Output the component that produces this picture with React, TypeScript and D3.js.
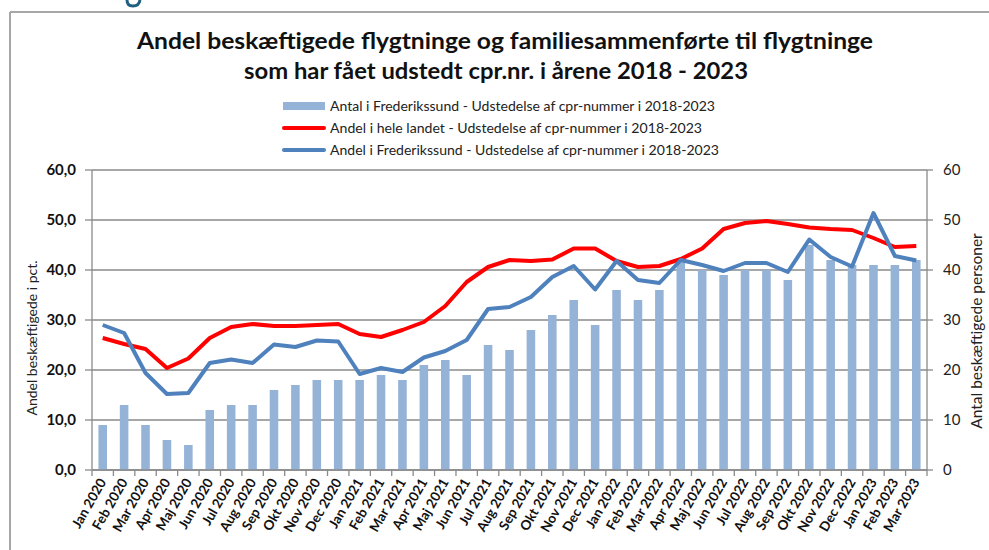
import React from "react";
import * as d3 from "d3";

const categories: string[] = [
  "Jan 2020","Feb 2020","Mar 2020","Apr 2020","Maj 2020","Jun 2020","Jul 2020","Aug 2020","Sep 2020","Okt 2020","Nov 2020","Dec 2020",
  "Jan 2021","Feb 2021","Mar 2021","Apr 2021","Maj 2021","Jun 2021","Jul 2021","Aug 2021","Sep 2021","Okt 2021","Nov 2021","Dec 2021",
  "Jan 2022","Feb 2022","Mar 2022","Apr 2022","Maj 2022","Jun 2022","Jul 2022","Aug 2022","Sep 2022","Okt 2022","Nov 2022","Dec 2022",
  "Jan 2023","Feb 2023","Mar 2023",
];

const antalFrederikssund = [
  9, 13, 9, 6, 5, 12, 13, 13, 16, 17, 18, 18,
  18, 19, 18, 21, 22, 19, 25, 24, 28, 31, 34, 29,
  36, 34, 36, 42, 40, 39, 40, 40, 38, 45, 42, 41,
  41, 41, 42,
];

const andelLandet = [
  26.4, 25.2, 24.2, 20.4, 22.3, 26.4, 28.6, 29.2, 28.8, 28.8, 29.0, 29.2,
  27.2, 26.6, 28.0, 29.6, 32.8, 37.6, 40.6, 42.0, 41.8, 42.1, 44.3, 44.3,
  41.8, 40.6, 40.8, 42.2, 44.3, 48.2, 49.4, 49.8, 49.2, 48.5, 48.2, 48.0,
  46.4, 44.6, 44.8,
];

const andelFrederikssund = [
  29.0, 27.4, 19.4, 15.2, 15.4, 21.4, 22.1, 21.4, 25.1, 24.6, 25.9, 25.7,
  19.2, 20.4, 19.6, 22.5, 23.8, 26.0, 32.2, 32.6, 34.6, 38.6, 40.8, 36.1,
  41.8, 38.0, 37.4, 42.0, 41.0, 39.8, 41.4, 41.4, 39.6, 46.1, 42.6, 40.7,
  51.4, 42.8, 41.9,
];

const leftTicks = [0, 10, 20, 30, 40, 50, 60];
const rightTicks = [0, 10, 20, 30, 40, 50, 60];

const titleLines = [
  "Andel beskæftigede flygtninge og familiesammenførte til flygtninge",
  "som har fået udstedt cpr.nr. i årene 2018 - 2023",
];
const legendLabels = [
  "Antal i Frederikssund - Udstedelse af cpr-nummer i 2018-2023",
  "Andel i hele landet - Udstedelse af cpr-nummer i 2018-2023",
  "Andel i Frederikssund - Udstedelse af cpr-nummer i 2018-2023",
];

const W = 989;
const H = 550;
const plot = { left: 92, right: 927, top: 170, bottom: 470 };
const FONT = "Lato, 'Liberation Sans', Arial, sans-serif";
const BAR = "#95b3d7";
const RED = "#ff0000";
const BLUE = "#4f81bd";
const GRID = "#8a8a8a";

export default function App() {
  const x = d3.scaleBand<string>().domain(categories).range([plot.left, plot.right]).padding(0);
  const yL = d3.scaleLinear().domain([0, 60]).range([plot.bottom, plot.top]);
  const yR = d3.scaleLinear().domain([0, 60]).range([plot.bottom, plot.top]);
  const bw = x.bandwidth() * 0.4;
  const cx = (c: string) => (x(c) as number) + x.bandwidth() / 2;

  const line = d3
    .line<number>()
    .x((_, i) => cx(categories[i]))
    .y((d) => yL(d))
    .curve(d3.curveLinear);

  const boundaries = categories.map((c) => x(c) as number).concat([plot.right]);

  return (
    <svg width={W} height={H} style={{ display: "block", position: "absolute", left: 0, top: 0, background: "#fff" }}>
      <rect x={0} y={0} width={W} height={H} fill="#fff" />
      {/* fragment of a cut-off heading above the frame */}
      <path d="M127,0 Q127,6 133,6 Q139,6 140,0" fill="none" stroke="#1f5f7f" strokeWidth={3} />
      {/* frame */}
      <line x1={10} y1={12} x2={W} y2={12} stroke="#a6a6a6" strokeWidth={2} />
      <line x1={10} y1={12} x2={10} y2={H} stroke="#a6a6a6" strokeWidth={2} />

      {/* title */}
      <text x={505} y={49} textAnchor="middle" fontFamily={FONT} fontWeight={700} fontSize={22} fill="#111"
        textLength={736} lengthAdjust="spacingAndGlyphs">{titleLines[0]}</text>
      <text x={496} y={79} textAnchor="middle" fontFamily={FONT} fontWeight={700} fontSize={22} fill="#111"
        textLength={504} lengthAdjust="spacingAndGlyphs">{titleLines[1]}</text>

      {/* legend */}
      <g fontFamily={FONT} fontSize={13.5} fill="#222">
        <rect x={283} y={102} width={42} height={8} fill={BAR} />
        <text x={330} y={110.5} textLength={385} lengthAdjust="spacingAndGlyphs">{legendLabels[0]}</text>
        <line x1={284} y1={128} x2={324} y2={128} stroke={RED} strokeWidth={4} strokeLinecap="round" />
        <text x={330} y={132.5} textLength={372} lengthAdjust="spacingAndGlyphs">{legendLabels[1]}</text>
        <line x1={284} y1={150} x2={324} y2={150} stroke={BLUE} strokeWidth={4} strokeLinecap="round" />
        <text x={330} y={154.5} textLength={389} lengthAdjust="spacingAndGlyphs">{legendLabels[2]}</text>
      </g>

      {/* gridlines */}
      {leftTicks.map((t) => (
        <line key={"g" + t} x1={plot.left} x2={plot.right} y1={yL(t)} y2={yL(t)} stroke={GRID} strokeWidth={1.3} />
      ))}

      {/* bars */}
      {antalFrederikssund.map((v, i) => (
        <rect key={"b" + i} x={cx(categories[i]) - bw / 2} y={yR(v)} width={bw} height={yR(0) - yR(v)} fill={BAR} />
      ))}

      {/* axes */}
      <line x1={plot.left} x2={plot.left} y1={plot.top} y2={plot.bottom} stroke={GRID} strokeWidth={1.3} />
      <line x1={plot.right} x2={plot.right} y1={plot.top} y2={plot.bottom} stroke={GRID} strokeWidth={1.3} />
      <line x1={plot.left} x2={plot.right} y1={plot.bottom} y2={plot.bottom} stroke={GRID} strokeWidth={1.3} />
      {leftTicks.map((t) => (
        <g key={"lt" + t}>
          <line x1={plot.left - 7} x2={plot.left} y1={yL(t)} y2={yL(t)} stroke={GRID} strokeWidth={1.3} />
          <text x={76} y={yL(t) + 5} textAnchor="end" fontFamily={FONT} fontWeight={700} fontSize={15} fill="#111">
            {t.toFixed(1).replace(".", ",")}
          </text>
        </g>
      ))}
      {rightTicks.map((t) => (
        <g key={"rt" + t}>
          <line x1={plot.right} x2={plot.right + 6} y1={yR(t)} y2={yR(t)} stroke={GRID} strokeWidth={1.3} />
          <text x={943} y={yR(t) + 5} textAnchor="start" fontFamily={FONT} fontSize={15} fill="#222">
            {t}
          </text>
        </g>
      ))}
      {boundaries.map((b, i) => (
        <line key={"xt" + i} x1={b} x2={b} y1={plot.bottom} y2={plot.bottom + 6} stroke={GRID} strokeWidth={1.3} />
      ))}

      {/* lines */}
      <path d={line(andelLandet) || ""} fill="none" stroke={RED} strokeWidth={4} strokeLinejoin="round" />
      <path d={line(andelFrederikssund) || ""} fill="none" stroke={BLUE} strokeWidth={4} strokeLinejoin="round" />

      {/* x labels */}
      {categories.map((c) => (
        <text key={"xl" + c} transform={`translate(${cx(c) + 4},${plot.bottom + 12}) rotate(-60)`} textAnchor="end"
          fontFamily={FONT} fontWeight={700} fontSize={13.5} fill="#111">
          {c}
        </text>
      ))}

      {/* axis titles */}
      <text transform={`translate(37,338) rotate(-90)`} textAnchor="middle" fontFamily={FONT} fontSize={14} fill="#222">
        Andel beskæftigede i pct.
      </text>
      <text transform={`translate(982,331) rotate(-90)`} textAnchor="middle" fontFamily={FONT} fontSize={15.5} fill="#222">
        Antal beskæftigede personer
      </text>
    </svg>
  );
}
